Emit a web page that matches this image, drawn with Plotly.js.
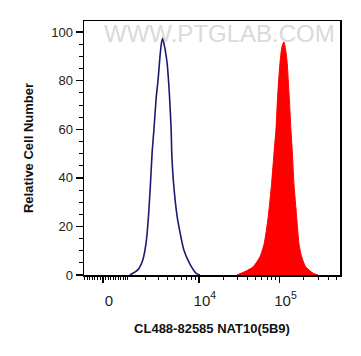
<!DOCTYPE html>
<html>
<head>
<meta charset="utf-8">
<script src="https://cdn.plot.ly/plotly-3.0.1.min.js"></script>
<style>
html,body{margin:0;padding:0;background:#fff;}
#chart{width:361px;height:356px;}
</style>
</head>
<body>
<div id="chart"></div>
<script>
// Fluorescence intensity (raw channel values) and relative cell counts
const controlX = [1100,1525,1823,2040,2210,2363,2493,2636,2842,3002,3199,3354,3462,3566,3740,3961,4258,4466,4557,4794,5331,5720,6481,7644,9250,10290];
const controlY = [0,2.1,6.2,13.1,24.0,37.7,50.6,59.7,73.4,80.2,90.5,95.9,97.5,95.9,92.6,87.2,73.3,59.7,49.4,37.9,24.0,18.5,10.3,4.8,0.7,0];

const stainedX = [29650,37260,47240,57170,64610,72410,79760,85960,90220,94650,101100,107100,113300,120000,124500,131800,138400,143600,150700,162800,173800,187700,210500,261500,299000];
const stainedY = [0,1.4,3.4,7.5,13.0,24.0,37.7,51.4,59.7,73.4,87.1,94,96,92,87.1,73.4,59.7,51.4,37.7,24.0,13.0,7.5,3.4,0.7,0];

const majorTickValues = [0, 10000, 100000];
const majorTickLabels = ['0', '10<sup>4</sup>', '10<sup>5</sup>'];
const xMin = -730, xMax = 560000;

// biexponential-like display transform (arcsinh)
const C = 1300;
function T(v){ return Math.asinh(v / C) / Math.LN10; }

const minorVals = [];
for (let v = -700; v <= 900; v += 100) if (v !== 0) minorVals.push(T(v));
for (let d of [100, 1000, 10000, 100000]) for (let m = (d === 100 ? 10 : 2); m <= 9 || (d === 100 && m === 10); m++) if (d*m <= xMax) minorVals.push(T(d*m));

const font = 'Arial, "Liberation Sans", sans-serif';

const traces = [
  {
    x: stainedX.map(T), y: stainedY, type: 'scatter', mode: 'lines',
    line: {color: '#ff0000', width: 1, shape: 'spline', smoothing: 0.6},
    fill: 'tozeroy', fillcolor: '#ff0000', hoverinfo: 'skip'
  },
  {
    x: controlX.map(T), y: controlY, type: 'scatter', mode: 'lines',
    line: {color: '#1a1a70', width: 1.6, shape: 'spline', smoothing: 0.6},
    hoverinfo: 'skip'
  }
];

const layout = {
  width: 361, height: 356,
  margin: {l: 84, r: 21, t: 21, b: 81},
  paper_bgcolor: '#fff', plot_bgcolor: '#fff',
  showlegend: false,
  font: {family: font, color: '#222'},
  xaxis: {
    range: [T(xMin), T(xMax)],
    tickmode: 'array', tickvals: majorTickValues.map(T), ticktext: majorTickLabels,
    ticks: 'outside', ticklen: 6, tickwidth: 1.5, tickcolor: '#000',
    tickfont: {size: 15, color: '#222', family: font},
    ticklabelshift: 6, ticklabelstandoff: 5,
    minor: {tickmode: 'array', tickvals: minorVals, ticks: 'outside', ticklen: 3, tickwidth: 1, tickcolor: '#000', showgrid: false},
    showline: true, linecolor: '#000', linewidth: 1.5, mirror: true,
    showgrid: false, zeroline: false,
    title: {text: '<b>CL488-82585 NAT10(5B9)</b>', font: {size: 13, color: '#111', family: font}, standoff: 16}
  },
  yaxis: {
    range: [0, 104.6],
    tickmode: 'array', tickvals: [0,20,40,60,80,100],
    ticks: 'outside', ticklen: 7, tickwidth: 1.5, tickcolor: '#000',
    tickfont: {size: 13, color: '#222', family: font},
    minor: {tickmode: 'linear', tick0: 0, dtick: 5, ticks: 'outside', ticklen: 4, tickwidth: 1, tickcolor: '#000', showgrid: false},
    showline: true, linecolor: '#000', linewidth: 1.5, mirror: true,
    showgrid: false, zeroline: false,
    title: {text: '<b>Relative Cell Number</b>', font: {size: 13, color: '#111', family: font}, standoff: 14}
  },
  annotations: [
    {
      text: 'WWW.PTGLAB.COM', xref: 'paper', yref: 'paper', x: 0.53, y: 0.952,
      xanchor: 'center', yanchor: 'middle', showarrow: false,
      font: {size: 24, color: '#dadada', family: font}
    }
  ]
};

Plotly.newPlot('chart', traces, layout, {displayModeBar: false, staticPlot: true});
</script>
</body>
</html>
